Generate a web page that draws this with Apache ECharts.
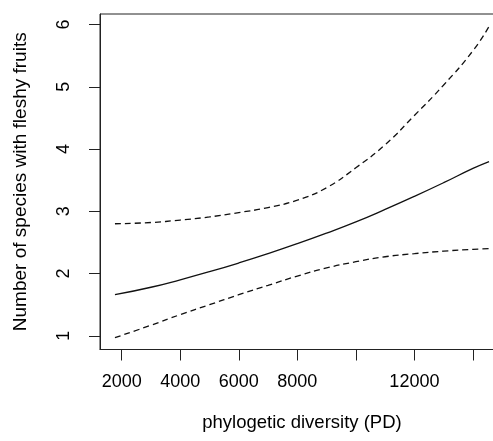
<!DOCTYPE html>
<html>
<head>
<meta charset="utf-8">
<script src="https://cdn.jsdelivr.net/npm/echarts@6/dist/echarts.min.js"></script>
<style>
  html, body { margin: 0; padding: 0; background: #fff; }
  #main { width: 493px; height: 441px; }
</style>
</head>
<body>
<div id="main"></div>
<script>
// phylogenetic diversity (x) and fitted number of species with fleshy fruits
var pd = [1770, 3000, 4000, 5000, 6000, 7000, 8000, 9000, 10000, 11000, 12000, 13000, 14000, 14550]
var fitted = [1.66, 1.78, 1.90, 2.03, 2.17, 2.32, 2.48, 2.65, 2.83, 3.03, 3.24, 3.46, 3.69, 3.80]
var upperCI = [2.80, 2.82, 2.86, 2.91, 2.98, 3.06, 3.18, 3.38, 3.70, 4.07, 4.54, 5.03, 5.58, 5.97]
var lowerCI = [0.97, 1.17, 1.34, 1.50, 1.66, 1.81, 1.96, 2.09, 2.19, 2.27, 2.32, 2.36, 2.39, 2.40]

var xTicks = [2000, 4000, 6000, 8000, 10000, 12000, 14000]
var xTickLabels = [2000, 4000, 6000, 8000, 12000]
var yTicks = [1, 2, 3, 4, 5, 6]

function pairs(ys) {
  return pd.map(function (x, i) { return [x, ys[i]] })
}

var font = 'Liberation Sans, Arial, sans-serif'
var chart = echarts.init(document.getElementById('main'))

var option = {
  animation: false,
  backgroundColor: '#fff',
  grid: {
    left: 100,
    top: 14,
    width: 404,
    height: 335.5,
    outerBoundsMode: 'none',
    containLabel: false,
    show: true,
    borderColor: '#222',
    borderWidth: 1,
    backgroundColor: 'transparent'
  },
  xAxis: {
    type: 'value',
    min: 1259,
    max: 15061,
    name: 'phylogetic diversity (PD)',
    nameLocation: 'middle',
    nameGap: 64,
    nameTextStyle: { color: '#000', fontSize: 18.5, fontFamily: font },
    axisLine: { show: true, lineStyle: { color: '#222', width: 1 } },
    axisTick: { show: true, length: 11, customValues: xTicks, lineStyle: { color: '#222', width: 1 } },
    axisLabel: {
      customValues: xTickLabels,
      formatter: function (v) { return String(v) },
      margin: 24,
      color: '#000',
      fontSize: 18,
      fontFamily: font
    },
    splitLine: { show: false }
  },
  yAxis: {
    type: 'value',
    min: 0.78,
    max: 6.17,
    name: 'Number of species with fleshy fruits',
    nameLocation: 'middle',
    nameGap: 70,
    nameTextStyle: { color: '#000', fontSize: 19, fontFamily: font },
    axisLine: { show: true, lineStyle: { color: '#222', width: 1 } },
    axisTick: { show: true, length: 11, customValues: yTicks, lineStyle: { color: '#222', width: 1 } },
    axisLabel: {
      customValues: yTicks,
      rotate: 90,
      margin: 27,
      color: '#000',
      fontSize: 18,
      fontFamily: font
    },
    splitLine: { show: false }
  },
  series: [
    {
      name: 'upper',
      type: 'line',
      smooth: 0.5,
      showSymbol: false,
      lineStyle: { color: '#111', width: 1.3, type: [6, 4] },
      data: pairs(upperCI)
    },
    {
      name: 'fit',
      type: 'line',
      smooth: 0.5,
      showSymbol: false,
      lineStyle: { color: '#111', width: 1.3 },
      data: pairs(fitted)
    },
    {
      name: 'lower',
      type: 'line',
      smooth: 0.5,
      showSymbol: false,
      lineStyle: { color: '#111', width: 1.3, type: [6, 4] },
      data: pairs(lowerCI)
    }
  ]
}

option && chart.setOption(option)
</script>
</body>
</html>
